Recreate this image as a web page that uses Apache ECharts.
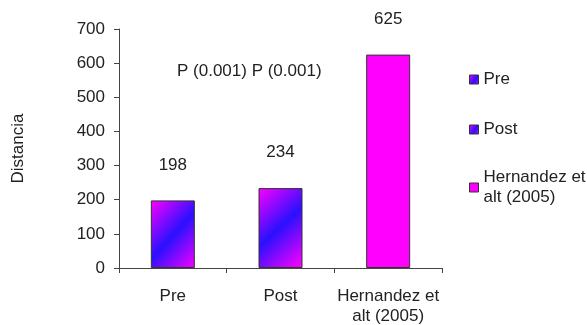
<!DOCTYPE html>
<html>
<head>
<meta charset="utf-8">
<script src="https://cdn.jsdelivr.net/npm/echarts@6/dist/echarts.min.js"></script>
<style>
  html, body { margin: 0; padding: 0; background: #fff; }
  #main { width: 587px; height: 325px; }
</style>
</head>
<body>
<div id="main"></div>
<script>
// categorias y valores
const categories = ['Pre', 'Post', 'Hernandez et\nalt (2005)'];
const seriesNames = ['Pre', 'Post', 'Hernandez et\nalt (2005)'];
const preValues = [198, '-', '-'];
const postValues = ['-', 234, '-'];
const hernandezValues = ['-', '-', 625];
const yTicks = [0, 100, 200, 300, 400, 500, 600, 700];
const note = 'P (0.001) P (0.001)';

const FONT = '"Liberation Sans", Arial, sans-serif';
const TXT = '#222';

// magenta -> azul -> magenta en diagonal
const grad = new echarts.graphic.LinearGradient(0, 0, 1.34, 0.8, [
  { offset: 0, color: '#ff00ff' },
  { offset: 0.5, color: '#2a10ff' },
  { offset: 1, color: '#ff00ff' }
]);

const chart = echarts.init(document.getElementById('main'));

function bar(name, data, color) {
  return {
    name: name,
    type: 'bar',
    data: data,
    barWidth: 44,
    barGap: '-100%',
    itemStyle: { color: color, borderColor: '#333', borderWidth: 1 },
    label: {
      show: true,
      position: 'top',
      distance: 27,
      fontSize: 17,
      fontFamily: FONT,
      color: TXT
    }
  };
}

// el icono se alinea con la primera linea
const legendData = seriesNames.map(function (n) {
  return { name: n, textStyle: { height: 21, verticalAlign: 'top' } };
});

chart.setOption({
  animation: false,
  backgroundColor: '#fff',
  textStyle: { fontFamily: FONT },
  grid: { left: 119, top: 29, right: 145, bottom: 57, containLabel: false, outerBoundsMode: 'none' },
  legend: {
    orient: 'vertical',
    left: 464,
    top: 64,
    itemWidth: 9,
    itemHeight: 9,
    itemGap: 29,
    icon: 'rect',
    data: legendData,
    itemStyle: { borderColor: '#333', borderWidth: 1 },
    textStyle: { fontSize: 17, lineHeight: 20, color: TXT, fontFamily: FONT }
  },
  xAxis: {
    type: 'category',
    data: categories,
    axisLine: { lineStyle: { color: '#444', width: 1 } },
    axisTick: { show: true, length: 5, lineStyle: { color: '#444' } },
    axisLabel: { interval: 0, fontSize: 17, lineHeight: 20, margin: 18, color: TXT, fontFamily: FONT }
  },
  yAxis: {
    type: 'value',
    min: yTicks[0],
    max: yTicks[yTicks.length - 1],
    interval: 100,
    name: 'Distancia',
    nameLocation: 'middle',
    nameGap: 92,
    nameRotate: 90,
    nameTextStyle: { fontSize: 17, color: TXT, fontFamily: FONT },
    splitLine: { show: false },
    axisLine: { show: true, lineStyle: { color: '#444', width: 1 } },
    axisTick: { show: true, length: 5, lineStyle: { color: '#444' } },
    axisLabel: { fontSize: 17, margin: 14, color: TXT, fontFamily: FONT }
  },
  graphic: [{
    type: 'text',
    left: 177,
    top: 63,
    style: { text: note, fontSize: 17, fontFamily: FONT, fill: TXT }
  }],
  series: [
    bar(seriesNames[0], preValues, grad),
    bar(seriesNames[1], postValues, grad),
    bar(seriesNames[2], hernandezValues, '#ff00ff')
  ]
});
</script>
</body>
</html>
